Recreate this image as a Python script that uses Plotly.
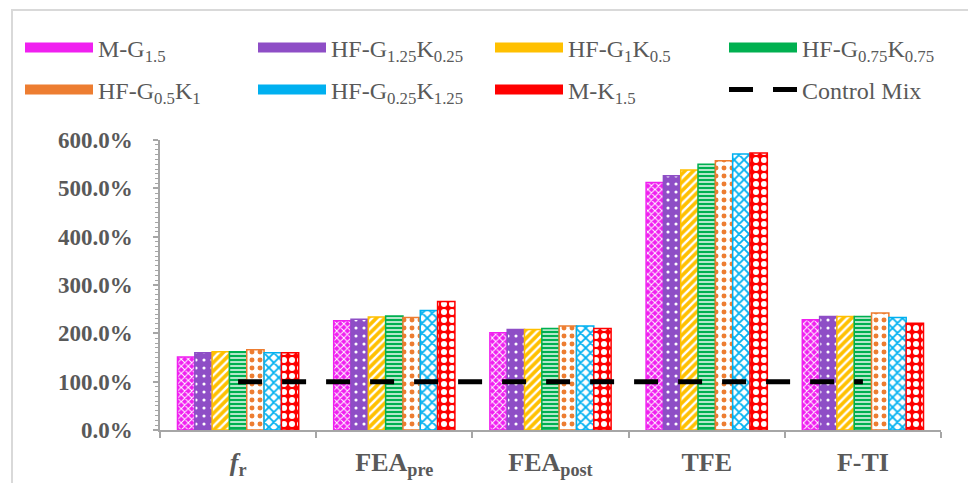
import plotly.graph_objects as go

categories = ["fr", "FEApre", "FEApost", "TFE", "F-TI"]
category_labels = ["<i>f</i><sub>r</sub>", "FEA<sub>pre</sub>", "FEA<sub>post</sub>", "TFE", "F-TI"]

series_names = [
    "M-G<sub>1.5</sub>",
    "HF-G<sub>1.25</sub>K<sub>0.25</sub>",
    "HF-G<sub>1</sub>K<sub>0.5</sub>",
    "HF-G<sub>0.75</sub>K<sub>0.75</sub>",
    "HF-G<sub>0.5</sub>K<sub>1</sub>",
    "HF-G<sub>0.25</sub>K<sub>1.25</sub>",
    "M-K<sub>1.5</sub>",
]

m_g15 = [1.51, 2.26, 2.01, 5.12, 2.28]
hf_g125k025 = [1.60, 2.29, 2.08, 5.26, 2.35]
hf_g1k05 = [1.62, 2.34, 2.08, 5.38, 2.35]
hf_g075k075 = [1.62, 2.36, 2.10, 5.50, 2.35]
hf_g05k1 = [1.66, 2.33, 2.15, 5.57, 2.42]
hf_g025k125 = [1.60, 2.47, 2.15, 5.71, 2.33]
m_k15 = [1.60, 2.66, 2.10, 5.73, 2.21]
control_mix = [1.0, 1.0, 1.0, 1.0, 1.0]

series_values = [m_g15, hf_g125k025, hf_g1k05, hf_g075k075, hf_g05k1, hf_g025k125, m_k15]

colors = ["#F020F0", "#8E4EC6", "#FFC000", "#00B050", "#ED7D31", "#00B0F0", "#FF0000"]
# (shape, fg, bg, size, solidity)
patterns = [
    ("x", "white", None, 5, 0.35),
    (".", "white", None, 8, 0.12),
    ("/", "white", None, 6, 0.4),
    ("-", "white", None, 4, 0.35),
    (".", None, "white", 8, 0.3),
    ("x", None, "white", 7, 0.45),
    (".", "white", None, 8, 0.45),
]

FONT = "Liberation Serif, Times New Roman, serif"
GRAY = "#595959"
AX = "#A6A6A6"

W, H = 968, 483
L, R, T, B = 160, 27, 140, 53
pw, ph = W - L - R, H - T - B

def px_x(x):
    return (x - L) / pw

def px_y(y):
    return (H - B - y) / ph

legend_cols = [20, 253, 490, 724]
legend_rows = [48, 90]

fig = go.Figure()
legend_ids = ["legend"] + [f"legend{i}" for i in range(2, 9)]

for i, (name, vals, col, pat) in enumerate(zip(series_names, series_values, colors, patterns)):
    shape, fg, bg, size, sol = pat
    fig.add_trace(go.Bar(
        x=categories, y=vals, name=name,
        marker=dict(
            color=col,
            line=dict(color=col, width=1.5),
            pattern=dict(shape=shape, fgcolor=fg if fg else col, bgcolor=bg if bg else col,
                         size=size, solidity=sol, fillmode="replace"),
        ),
        legendgroup=f"s{i}", showlegend=False,
    ))
    # legend swatch entry for the same series (no data of its own)
    fig.add_trace(go.Scatter(
        x=[None], y=[None], name=name, mode="lines",
        line=dict(color=col, width=14),
        legendgroup=f"s{i}", showlegend=True, legend=legend_ids[i],
    ))

fig.add_trace(go.Scatter(
    x=categories, y=control_mix, name="Control Mix", mode="lines",
    line=dict(color="black", width=5, dash="24px,20px"),
    legend=legend_ids[7], showlegend=True,
))

layout_legends = {}
for i, lid in enumerate(legend_ids):
    r, c = divmod(i, 4)
    layout_legends[lid] = dict(
        x=px_x(legend_cols[c]), y=px_y(legend_rows[r]),
        xanchor="left", yanchor="middle", orientation="h",
        font=dict(family=FONT, size=24, color=GRAY),
        itemwidth=68, bgcolor="rgba(0,0,0,0)", borderwidth=0,
        visible=True,
    )

fig.update_layout(
    width=W, height=H,
    showlegend=True,
    margin=dict(l=L, r=R, t=T, b=B, autoexpand=False),
    paper_bgcolor="white", plot_bgcolor="white",
    barmode="group", bargap=0.224, bargroupgap=0.0,
    **layout_legends,
    xaxis=dict(
        type="category", tickmode="array", tickvals=categories, ticktext=category_labels,
        showline=True, linecolor=AX, linewidth=1.5,
        ticks="outside", tickson="boundaries", ticklen=6, tickcolor=AX, tickwidth=1.5,
        tickfont=dict(family=FONT, size=26, color=GRAY, weight="bold"),
        showgrid=False, zeroline=False, ticklabelstandoff=8,
    ),
    yaxis=dict(
        range=[0, 6], tickmode="linear", dtick=1, tickformat=".1%",
        showline=True, linecolor=AX, linewidth=1.5,
        ticks="outside", ticklen=5, tickcolor=AX, tickwidth=1.5,
        minor=dict(dtick=0.1, ticks="outside", ticklen=3, tickcolor=AX, tickwidth=1),
        tickfont=dict(family=FONT, size=23, color=GRAY, weight="bold"),
        showgrid=False, zeroline=False, ticklabelstandoff=16,
    ),
    shapes=[dict(type="rect", xref="paper", yref="paper",
                 x0=px_x(12), x1=px_x(1000), y0=px_y(520), y1=px_y(10),
                 line=dict(color="#D9D9D9", width=2), fillcolor="rgba(0,0,0,0)", layer="below")],
)

fig.write_html("out.html")
